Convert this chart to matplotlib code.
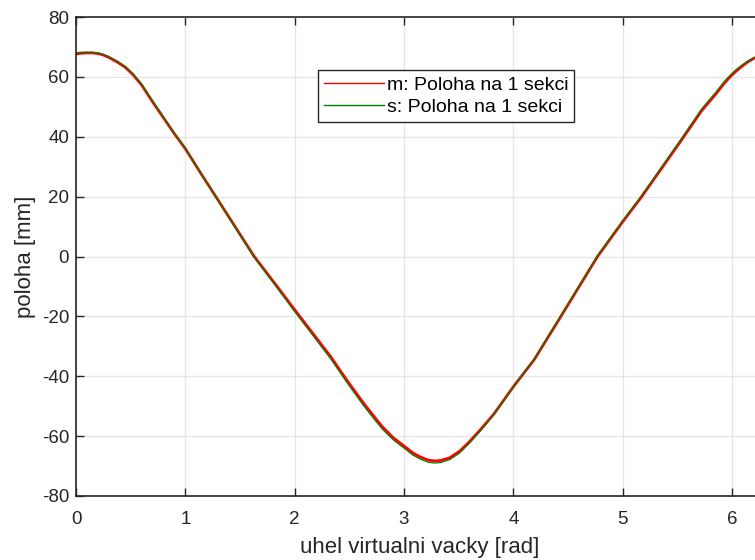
import matplotlib
matplotlib.use("Agg")
import matplotlib.pyplot as plt
import numpy as np

plt.rcParams["font.family"] = ["Liberation Sans", "DejaVu Sans"]
plt.rcParams["axes.unicode_minus"] = False

# values (angle in rad, position in mm)
uhel = [0.0, 0.05, 0.1, 0.15, 0.2, 0.25, 0.3, 0.38, 0.45, 0.52, 0.6, 0.68,
        0.75, 0.9, 1.0, 1.15, 1.3, 1.63, 1.86, 2.0, 2.33, 2.48, 2.63, 2.72,
        2.8, 2.9, 3.0, 3.08, 3.15, 3.22, 3.28, 3.34, 3.42, 3.51, 3.6, 3.7,
        3.82, 4.0, 4.19, 4.43, 4.77, 5.0, 5.17, 5.53, 5.72, 5.85, 5.93, 5.99,
        6.04, 6.09, 6.14, 6.2, 6.283]
poloha_m = [67.6, 67.9, 68.0, 68.0, 67.8, 67.3, 66.5, 64.9, 63.2, 60.8, 57.3,
            52.8, 49.0, 41.0, 36.0, 27.3, 18.8, 0.0, -11.0, -17.8, -33.5, -41.5,
            -49.0, -53.2, -56.8, -60.5, -63.3, -65.6, -67.0, -68.0, -68.3,
            -68.1, -67.2, -65.0, -61.8, -57.8, -52.7, -43.5, -34.5, -20.3, 0.0,
            11.6, 19.8, 38.5, 48.6, 54.2, 57.9, 60.3, 62.0, 63.5, 64.9, 66.2,
            67.4]
poloha_s = [68.1, 68.2, 68.2, 68.2, 68.0, 67.5, 66.8, 65.2, 63.5, 61.1, 57.6,
            53.1, 49.3, 41.2, 36.2, 27.3, 18.7, -0.3, -11.5, -18.4, -34.2, -42.2,
            -49.8, -54.0, -57.6, -61.2, -64.0, -66.3, -67.7, -68.7, -69.0,
            -68.8, -67.8, -65.6, -62.3, -58.2, -52.9, -43.6, -34.3, -20.0, 0.3,
            12.0, 20.2, 39.0, 49.2, 54.8, 58.5, 60.8, 62.5, 63.9, 65.2, 66.4,
            67.6]

fig = plt.figure(figsize=(7.55, 5.6), dpi=100)
# the axes run slightly past the right edge of the picture, as in the reference
ax = fig.add_axes([76 / 755, 64 / 560, 687 / 755, 479 / 560])

ax.plot(uhel, poloha_m, color="#ff0000", lw=2.0, label="m: Poloha na 1 sekci")
ax.plot(uhel, poloha_s, color="#008000", lw=0.9, label="s: Poloha na 1 sekci")

ax.set_xlim(0, 2 * np.pi)
ax.set_ylim(-80, 80)
ax.set_xticks(range(0, 7))
ax.set_yticks(range(-80, 81, 20))
ax.grid(True, color="#e6e6e6", lw=1.0)
ax.set_axisbelow(True)
ax.tick_params(direction="in", top=True, right=True, length=6, width=1.0,
               labelsize=13.5, colors="#262626", pad=5)
ax.tick_params(axis="x", pad=11)
for s in ax.spines.values():
    s.set_color("#262626")
    s.set_linewidth(1.2)

ax.set_xlabel("uhel virtualni vacky [rad]", fontsize=16, color="#262626", labelpad=6)
ax.set_ylabel("poloha [mm]", fontsize=16, color="#262626", labelpad=4)

leg = ax.legend(loc="upper left", bbox_to_anchor=(0.352, 0.889), fontsize=14,
                fancybox=False, edgecolor="#262626", framealpha=1,
                handlelength=3.1, borderpad=0.3, labelspacing=0.25,
                handletextpad=0.15, borderaxespad=0)
leg.get_frame().set_linewidth(1.0)
for ln in leg.get_lines():
    ln.set_linewidth(1.0)

fig.savefig("out.png", dpi=100)
